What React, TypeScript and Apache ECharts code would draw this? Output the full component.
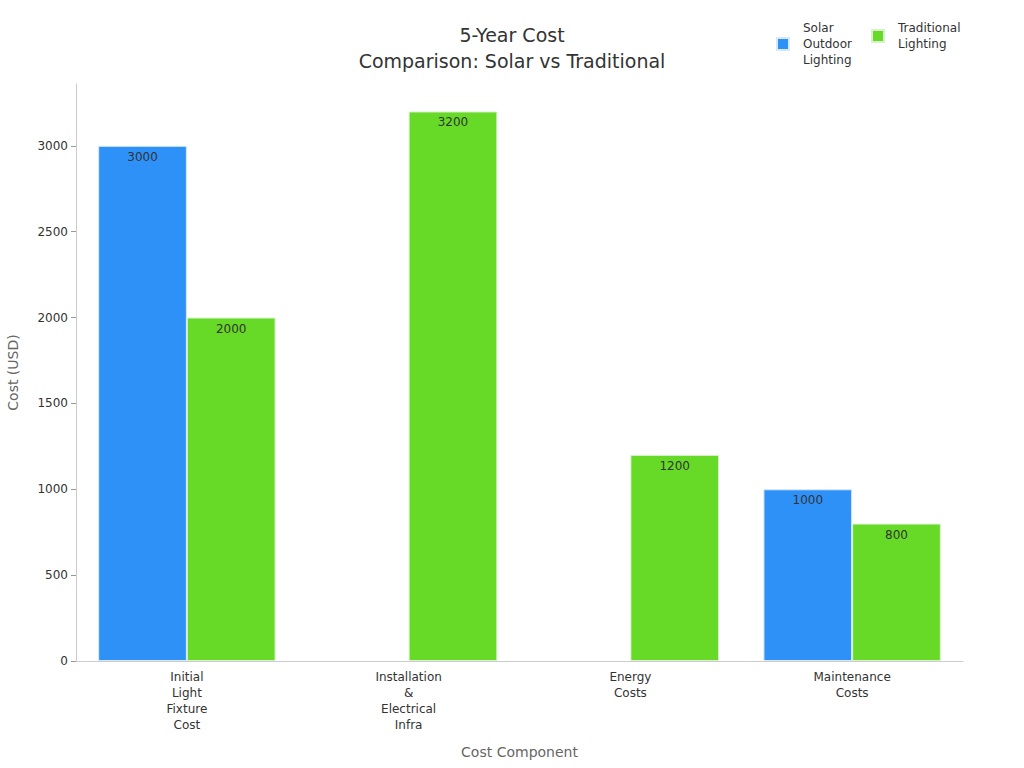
import React, { useEffect, useRef } from "react";
import * as echarts from "echarts";

const categories = [
  "Initial Light Fixture Cost",
  "Installation & Electrical Infra",
  "Energy Costs",
  "Maintenance Costs",
];
const solarValues: (number | null)[] = [3000, null, null, 1000];
const traditionalValues: (number | null)[] = [2000, 3200, 1200, 800];
const seriesNames = ["Solar Outdoor Lighting", "Traditional Lighting"];

export default function App() {
  const ref = useRef<HTMLDivElement>(null);
  useEffect(() => {
    if (!ref.current) return;
    document.body.style.margin = "0";
    const chart = echarts.init(ref.current, null, { renderer: "svg" });
    const font = "DejaVu Sans";
    const labelCfg = {
      show: true,
      position: "insideTop",
      distance: 5,
      color: "#333",
      fontSize: 12,
      fontFamily: font,
    };
    const legendBase = {
      top: 15,
      itemWidth: 12,
      itemHeight: 12,
      icon: "rect",
      textStyle: { fontSize: 12, color: "#333", lineHeight: 16, fontFamily: font, padding: [0, 0, 0, 9] },
      formatter: (n: string) => n.split(" ").join("\n"),
    };
    chart.setOption({
      animation: false,
      textStyle: { fontFamily: font },
      title: {
        text: "5-Year Cost\nComparison: Solar vs Traditional",
        left: "center",
        top: 17,
        textStyle: { fontSize: 19, fontWeight: "normal", color: "#333", lineHeight: 26, fontFamily: font },
      },
      legend: [
        { ...legendBase, left: 771, data: [seriesNames[0]] },
        { ...legendBase, left: 866, data: [seriesNames[1]] },
      ],
      grid: { left: 76, right: 61, top: 84, bottom: 107, containLabel: false, outerBoundsMode: "none" },
      xAxis: {
        type: "category",
        data: categories,
        name: "Cost Component",
        nameLocation: "middle",
        nameGap: 84,
        nameTextStyle: { fontSize: 14, color: "#666", fontFamily: font },
        axisLine: { lineStyle: { color: "#ccc" } },
        axisTick: { alignWithLabel: true, lineStyle: { color: "#999" } },
        axisLabel: {
          interval: 0,
          color: "#333",
          fontSize: 12,
          lineHeight: 16,
          fontFamily: font,
          formatter: (v: string) => v.split(" ").join("\n"),
        },
      },
      yAxis: {
        type: "value",
        min: 0,
        max: 3360,
        interval: 500,
        name: "Cost (USD)",
        nameLocation: "middle",
        nameGap: 56,
        nameTextStyle: { fontSize: 14, color: "#666", fontFamily: font },
        axisLine: { show: true, lineStyle: { color: "#ccc" } },
        axisTick: { show: true, lineStyle: { color: "#999" } },
        axisLabel: {
          color: "#333",
          fontSize: 12,
          fontFamily: font,
          showMaxLabel: false,
          formatter: (v: number) => String(v),
        },
        splitLine: { show: false },
      },
      series: [
        {
          name: seriesNames[0],
          type: "bar",
          data: solarValues,
          barGap: "0%",
          barCategoryGap: "20%",
          itemStyle: { color: "#2E91F8", borderColor: "#d8e8f8", borderWidth: 1 },
          label: labelCfg,
        },
        {
          name: seriesNames[1],
          type: "bar",
          data: traditionalValues,
          barGap: "0%",
          barCategoryGap: "20%",
          itemStyle: { color: "#66DA26", borderColor: "#d8f0cc", borderWidth: 1 },
          label: labelCfg,
        },
      ],
    });
    return () => chart.dispose();
  }, []);
  return <div ref={ref} style={{ width: 1024, height: 768 }} />;
}
